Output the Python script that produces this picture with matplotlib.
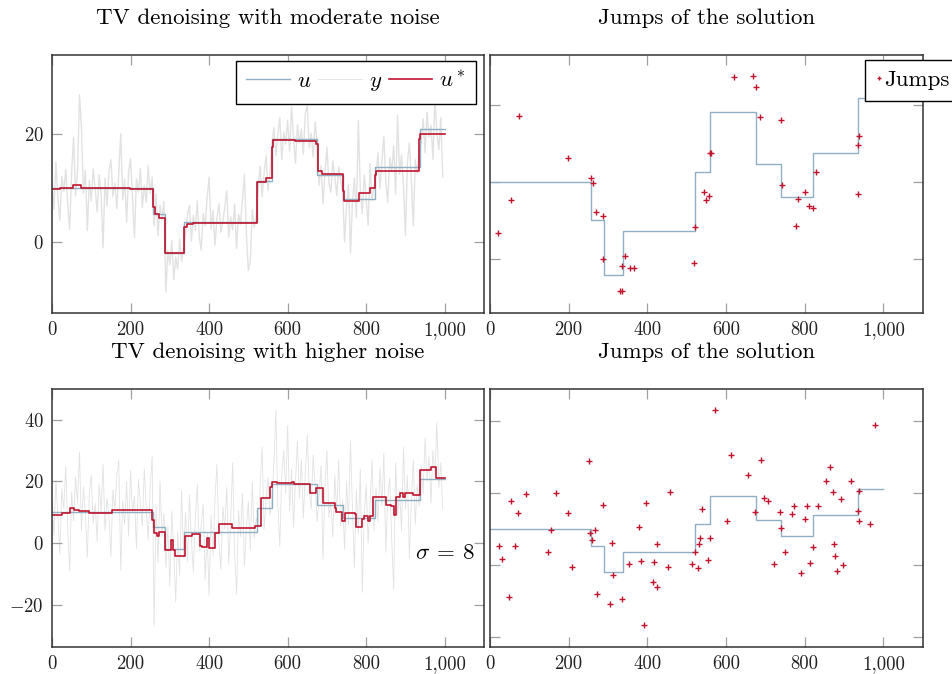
import matplotlib
matplotlib.use("Agg")
import matplotlib.pyplot as plt
import numpy as np
from matplotlib.ticker import FuncFormatter

plt.rcParams['font.family'] = 'cmr10'
plt.rcParams['mathtext.fontset'] = 'cm'
plt.rcParams['axes.formatter.use_mathtext'] = True

# true piecewise-constant signal u (same in both rows)
u_breaks = [0, 258, 289, 337, 521, 559, 676, 740, 822, 936, 1000]
u_levels = [10.0, 5.1, -2.1, 3.6, 11.3, 19.1, 12.3, 8.0, 13.8, 20.9, 20.9]

# noisy observations y, read every 5 samples
y_x = list(range(0, 1000, 5))
y_moderate = [
    11.5, 6.0, 14.8, 8.2, 4.0, 12.1, 9.3, 13.4, 7.1, 2.3,
    12.8, 19.4, 8.5, 13.0, 27.2, 21.0, 9.0, 13.2, 2.1, 11.4,
    7.6, 13.5, 9.8, 5.5, 12.4, 8.9, -1.1, 11.8, 6.7, 13.1,
    15.2, 8.4, 10.9, 6.2, 12.7, 20.0, 7.8, 11.6, 3.6, 12.9,
    15.4, 8.1, 0.8, 11.7, 9.2, 13.6, 6.4, 10.5, 7.3, 14.1, 9.0, 12.0,
    3.0, 8.9, 1.2, 6.8, 4.1, 7.5,
    -9.3, -1.5, -4.2, 0.3, -7.0, -2.8, -5.0, 0.5, -3.6, -1.0,
    1.5, 5.0, 6.8, 0.2, 4.9, 2.1, 7.6, 1.0, -1.5, 5.3,
    3.0, 8.2, 12.0, 2.4, 5.8, -0.6, 4.4, 7.1, 1.8, 3.9,
    6.4, 9.5, 0.9, 4.6, 2.2, 7.0, -1.2, 5.1, 3.3, 8.0,
    12.5, 1.4, -5.3, -3.5, 6.0, 2.7, 4.8,
    10.2, 14.0, 8.4, 12.6, 16.0, 9.5, 13.1,
    17.5, 21.2, 16.0, 19.8, 23.0, 15.2, 20.4, 18.1, 22.5, 16.8, 25.0, 19.0,
    14.6, 21.7, 18.3, 20.9, 16.2, 23.8, 25.2, 17.4, 20.1, 15.8, 22.2, 18.7,
    10.5, 14.1, 7.0, 12.8, 17.5, 11.0, 9.2, 15.0, 12.2, 8.6, 13.9, 11.4,
    9.5, 0.0, 6.8, 10.7, -2.0, 7.3, 11.9, 4.5, 22.5, 9.8, 5.2, 12.4, 8.0, 3.1, 14.5, 7.7, 10.3,
    12.0, 16.5, 9.8, 14.9, 19.5, 11.2, 7.3, 15.6, 13.0, 17.8, 8.9, 23.4,
    12.5, 16.1, 10.4, 1.2, 14.7, 18.3, 11.6, 3.0, 15.2, 12.8, 17.0,
    18.2, 22.8, 16.5, 24.0, 19.4, 21.6, 15.3, 26.5, 20.2, 17.1, 23.0, 12.0,
]
y_high = [
    14.0, 2.5, 20.3, 8.1, -3.5, 17.6, 11.2, 24.8, 5.0, -9.0,
    16.4, 7.2, 21.5, 13.0, 29.5, 3.8, 18.2, 9.4, -4.6, 15.7,
    22.0, 6.3, 12.8, 0.5, 19.1, 10.2, 25.6, 4.0, 14.5, 8.8,
    -4.5, 17.3, 11.0, 21.9, 27.0, -8.8, 13.6, 6.0, 19.8, 2.2,
    23.5, 9.6, 15.2, -1.8, 20.7, 12.4, 5.5, 24.0, 10.8, 1.0, 17.9, 28.0,
    -26.8, 12.0, -6.5, 20.0, 2.0, 9.5,
    -8.0, 5.5, -14.0, 10.2, -3.0, -19.0, 3.5, -10.5, 17.0, -5.0,
    10.0, -6.0, 15.5, 1.2, -9.5, 8.3, 19.0, -2.5, 6.0, 12.5,
    -12.0, 3.0, -17.0, 9.0, -4.0, 14.2, 25.5, 0.5, -8.5, 11.8,
    4.5, 18.0, -6.8, 7.5, 26.0, -3.5, -16.5, 10.5, 2.0, 16.0,
    -7.5, 5.0, 13.5, -2.0, 20.0, 1.5, 8.0,
    6.0, 18.5, 31.0, 4.5, 14.0, 21.0, 9.0,
    14.0, 26.0, 43.0, 12.5, -1.0, 22.0, 30.0, 16.0, 38.0, 10.5, 24.0, 5.0,
    20.5, 33.0, 14.5, 27.0, 8.0, 22.5, 35.0, 17.0, 11.0, 28.5, 19.0, 7.0,
    15.0, 25.0, -5.3, 18.0, 30.0, 8.5, 13.0, 2.0, 22.0, 10.0, 27.0, 5.5,
    14.0, -2.0, 20.0, 6.0, 33.0, 11.0, -8.0, 17.0, 3.0, 24.0, -16.0, 9.0, 19.0, 0.0, 13.0, 27.0, 4.0,
    18.0, 7.0, 24.5, 12.0, 29.0, -3.0, 15.0, 21.0, 1.0, -15.0, 26.0, 9.0,
    17.0, 4.0, 31.0, 11.0, 22.0, -5.0, 14.0, 27.0, 6.0, 19.0, 12.0,
    25.0, 16.0, 34.0, 20.0, 28.0, 13.0, 30.0, 22.0, 39.0, 18.0, 26.0, 11.0,
]

# TV solutions u*
ustar_mod_x = [0, 20, 54, 75, 198, 258, 262, 272, 289, 337, 345, 360, 521, 546, 559,
               563, 620, 672, 677, 688, 740, 743, 782, 810, 822, 826, 935, 938, 1000]
ustar_mod_v = [9.75, 10.0, 10.6, 10.0, 9.8, 6.5, 5.1, 4.5, -2.1, 2.8, 3.3, 3.5, 11.0, 11.8, 17.5,
               18.8, 18.65, 18.1, 13.1, 12.5, 9.4, 7.65, 9.1, 9.9, 12.4, 13.2, 19.1, 19.9, 19.9]
ustar_high_x = [0, 25, 47, 55, 68, 93, 153, 254, 259, 267, 273, 288, 304, 307, 314,
                338, 356, 377, 383, 394, 399, 416, 424, 458, 517, 533, 554, 561, 572, 610,
                616, 656, 673, 690, 720, 724, 739, 745, 771, 775, 790, 795, 805, 809, 818,
                851, 864, 871, 877, 885, 894, 898, 919, 936, 964, 978, 1000]
ustar_high_v = [9.1, 9.8, 11.4, 10.7, 10.3, 9.8, 10.7, 7.5, 3.1, 2.3, 3.7, -2.3, 1.0, -2.3, -4.2,
                2.4, 2.8, -1.0, -1.4, 1.7, -1.7, 3.1, 6.1, 4.8, 5.5, 14.5, 18.2, 19.9, 19.5, 19.9,
                19.0, 16.3, 17.7, 13.1, 11.2, 10.2, 7.1, 9.8, 9.4, 5.1, 7.7, 8.75, 7.1, 8.75, 14.8,
                12.3, 12.0, 9.1, 14.8, 16.3, 14.8, 16.3, 15.6, 23.7, 24.7, 21.0, 21.0]

# jumps
jumps_mod_x = [19.5, 52.6, 72.9, 198.5, 257, 263, 269.7, 286.7, 287.5, 336.7, 343.5, 356, 367,
               330, 336.7, 518, 520, 543.7, 548, 558, 560, 563, 620, 667.5, 676, 687, 738.8,
               742, 777, 782, 801.5, 810, 820, 828, 935.5, 936.4, 939]
jumps_mod_v = [3.38, 7.62, 18.53, 13.12, 10.52, 9.87, 6.15, 5.63, 0.0, -0.91, 0.35, -1.17, -1.13,
               -4.24, -4.24, -0.56, 4.16, 8.66, 7.7, 8.22, 13.8, 13.7, 23.7, 23.77, 22.4, 18.5, 18.1,
               9.6, 4.33, 7.8, 8.66, 6.84, 6.67, 11.26, 8.44, 14.76, 16.0]
jumps_high_x = [22.9, 31.4, 47.5, 53.4, 63.6, 70.4, 92.5, 147.6, 154.4, 168.8, 198.5, 207.8,
                251, 255.3, 259.5, 267.2, 271.4, 287.5, 304.5, 310.4, 313, 335.9, 352.8, 378.3,
                384.2, 392.7, 397.8, 413.9, 417.3, 424.1, 424.9, 452, 457.2, 513.1, 520.8, 529.3,
                531.8, 532.7, 537.7, 553.9, 558.1, 570.8, 601.4, 613.2, 654.8, 673.5, 687.9,
                695.5, 705.7, 721.8, 737.9, 740.5, 748.9, 768.4, 772.7, 790.5, 799.8, 805.8,
                812.6, 820.2, 833.8, 854.1, 865.1, 871.1, 875.3, 877.9, 882.1, 891.4, 896.5,
                916.9, 935.5, 937.2, 938.9, 966, 978.8]
jumps_high_v = [5.19, 1.5, -8.9, 17.8, 5.3, 14.4, 19.55, 3.44, 9.55, 19.8, 14.36, -0.55,
                28.9, 8.7, 6.86, 9.7, -8.05, 16.6, -11.0, 6.0, -2.8, -9.5, 0.1, 10.5,
                0.93, -16.9, 17.1, -4.7, 0.8, -6.2, 5.8, -0.55, 20.3, 0.28, 3.5, -1.0,
                5.8, 7.3, 15.5, 1.2, 7.3, 42.9, 12.05, 30.4, 25.0, 14.7, 29.1,
                18.6, 17.8, 0.2, 14.6, 10.1, 3.44, 14.0, 16.4, -2.2, 12.6, 16.4,
                0.55, 4.8, 16.4, 23.25, 27.1, 20.1, 5.6, 2.4, -1.75, 18.2, -0.1,
                23.25, 14.8, 12.2, 20.5, 11.3, 38.8]

c_u = '#8fb0c2'
c_y = '#e2e2e2'
c_red = '#c0152f'

W, H = 953, 674
fig = plt.figure(figsize=(W / 100, H / 100), dpi=100)


def add_ax(x0, y0, x1, y1):
    return fig.add_axes([x0 / W, 1 - y1 / H, (x1 - x0) / W, (y1 - y0) / H])


def style(ax, ylim, yticks, ylabels=True):
    ax.set_xlim(0, 1100)
    ax.set_ylim(*ylim)
    ax.set_xticks([0, 200, 400, 600, 800, 1000])
    ax.set_yticks(yticks)
    ax.xaxis.set_major_formatter(FuncFormatter(lambda v, p: f"{int(v):,}"))
    ax.yaxis.set_major_formatter(FuncFormatter(lambda v, p: f"${v:g}$"))
    ax.tick_params(direction='in', length=7, width=0.9, color='#a0a0a0',
                   top=True, right=True, labelsize=13.5, pad=6,
                   labelcolor='#222222')
    if not ylabels:
        ax.tick_params(labelleft=False)
    for s in ax.spines.values():
        s.set_color('#333333')
        s.set_linewidth(1.1)


axes_pos = {
    'tl': (52, 55, 484, 312.7),
    'tr': (490, 55, 922.7, 312.7),
    'bl': (52, 389, 484, 646.7),
    'br': (490, 389, 922.7, 646.7),
}

# --- top left
ax = add_ax(*axes_pos['tl'])
lu, = ax.plot(u_breaks, u_levels, drawstyle='steps-post', color=c_u, lw=1.0, label='$u$')
ly, = ax.plot(y_x, y_moderate, color=c_y, lw=0.6, label='$y$', zorder=1)
lr, = ax.plot(ustar_mod_x, ustar_mod_v, drawstyle='steps-post', color=c_red, lw=1.2, label='$u^*$')
style(ax, (-13.1, 34.6), [0, 20])
ax.set_title('TV denoising with moderate noise', fontsize=16.5, pad=22)
leg = ax.legend(handles=[lu, ly, lr], ncol=3, loc='upper right', bbox_to_anchor=(0.981, 0.978),
                borderaxespad=0, fontsize=16.5, handlelength=1.9, handletextpad=0.3,
                columnspacing=0.3, borderpad=0.45, fancybox=False, framealpha=1,
                edgecolor='black')
leg.get_frame().set_linewidth(1.0)
ly.set_linewidth(1.0)

# --- top right
ax = add_ax(*axes_pos['tr'])
ax.plot(u_breaks, u_levels, drawstyle='steps-post', color=c_u, lw=1.0)
jm, = ax.plot(jumps_mod_x, jumps_mod_v, '+', color=c_red, ms=5, mew=1.0, label='Jumps', linestyle='none')
style(ax, (-7.0, 26.5), [0, 10, 20], ylabels=False)
ax.set_title('Jumps of the solution', fontsize=16.5, pad=22)
leg = ax.legend(handles=[jm], loc='upper left', bbox_to_anchor=(0.8667, 0.9806), borderaxespad=0,
                fontsize=16.5, handlelength=0.3, handletextpad=0.1, borderpad=0.45,
                fancybox=False, framealpha=1, edgecolor='black', markerscale=0.7)
leg.get_frame().set_linewidth(1.0)

# --- bottom left
ax = add_ax(*axes_pos['bl'])
ax.plot(y_x, y_high, color=c_y, lw=0.6, zorder=1)
ax.plot(u_breaks, u_levels, drawstyle='steps-post', color=c_u, lw=1.0)
ax.plot(ustar_high_x, ustar_high_v, drawstyle='steps-post', color=c_red, lw=1.2)
style(ax, (-33.6, 49.9), [-20, 0, 20, 40])
ax.set_title('TV denoising with higher noise', fontsize=16.5, pad=22)
ax.text(0.91, 0.364, r'$\sigma\:=\:8$', transform=ax.transAxes, ha='center', va='center', fontsize=16.5)

# --- bottom right
ax = add_ax(*axes_pos['br'])
ax.plot(u_breaks, u_levels, drawstyle='steps-post', color=c_u, lw=1.0)
ax.plot(jumps_high_x, jumps_high_v, '+', color=c_red, ms=5, mew=1.0, linestyle='none')
style(ax, (-22.8, 48.8), [-20, 0, 20, 40], ylabels=False)
ax.set_title('Jumps of the solution', fontsize=16.5, pad=22)

fig.savefig('out.png', dpi=100)
